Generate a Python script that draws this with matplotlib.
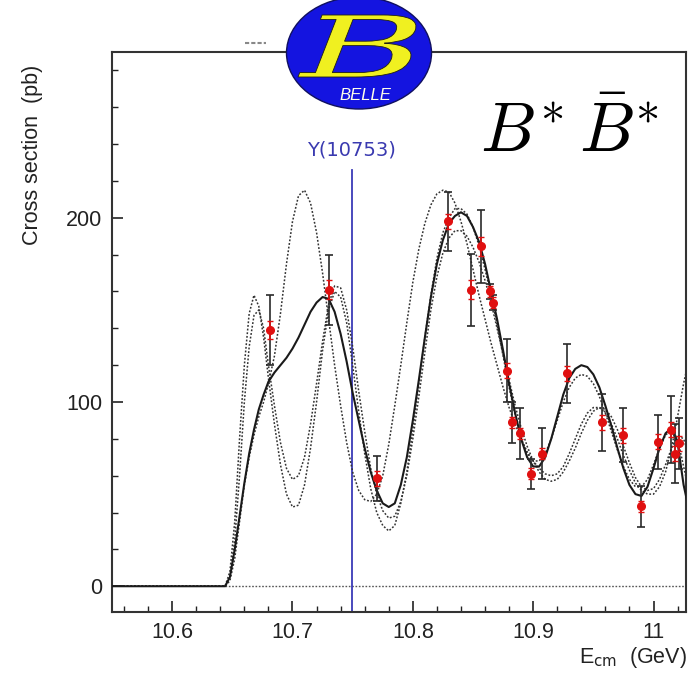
import numpy as np
import matplotlib
matplotlib.use("Agg")
import matplotlib.pyplot as plt
from matplotlib.patches import Ellipse, PathPatch
from matplotlib.lines import Line2D
from matplotlib.textpath import TextPath
from matplotlib.font_manager import FontProperties
from matplotlib.transforms import Affine2D
from matplotlib.ticker import MultipleLocator

plt.rcParams['font.family'] = ['Liberation Sans', 'DejaVu Sans']

# measured points: energy (GeV), cross section (pb), total error, stat error
e_pts = [10.681, 10.7306, 10.770, 10.829, 10.8485, 10.857, 10.864, 10.867,
         10.878, 10.8824, 10.889, 10.898, 10.907, 10.928, 10.957, 10.975,
         10.990, 11.0037, 11.0142, 11.018, 11.021]
xs_pts = [139, 161, 58.5, 198, 161, 184.5, 160, 154,
          117, 89, 83, 61, 72, 115.6, 89, 82,
          43.4, 78.4, 85, 72, 77.5]
err_tot = [19, 19, 12, 16, 19.5, 20, 4, 4,
           17, 11, 14, 8, 14, 16, 15.5, 14.5,
           11, 14.5, 18, 16, 14]
err_stat = [5, 5, 4, 4, 5, 5, 3, 3,
            4, 3, 3, 3, 3, 4, 4, 4,
            3, 4, 4, 4, 4]

# fit curves
e_curve = [10.55, 10.644, 10.648, 10.652, 10.656, 10.66, 10.664, 10.668, 10.672,
           10.676, 10.68, 10.685, 10.69, 10.695, 10.70, 10.705, 10.71, 10.715,
           10.72, 10.725, 10.73, 10.735, 10.74, 10.745, 10.75, 10.755, 10.76,
           10.765, 10.77, 10.775, 10.78, 10.785, 10.79, 10.795, 10.80, 10.805,
           10.81, 10.815, 10.82, 10.825, 10.83, 10.835, 10.84, 10.845, 10.85,
           10.855, 10.86, 10.865, 10.87, 10.875, 10.88, 10.885, 10.89, 10.895,
           10.90, 10.905, 10.91, 10.915, 10.92, 10.925, 10.93, 10.935, 10.94,
           10.945, 10.95, 10.955, 10.96, 10.965, 10.97, 10.975, 10.98, 10.985,
           10.99, 10.995, 11.00, 11.005, 11.01, 11.015, 11.02, 11.025, 11.03]

fit_main = [0, 0, 5, 20, 38, 56, 72, 85, 96,
            104, 111, 116, 120, 124, 129, 135, 142, 149,
            154, 157, 156, 149, 137, 122, 105, 90, 75,
            62, 52, 45, 43, 45, 55, 70, 90, 112,
            135, 157, 175, 188, 197, 201, 203, 201, 195,
            187, 175, 160, 145, 128, 110, 94, 80, 70,
            65, 65, 70, 80, 92, 104, 113, 118, 120,
            119, 115, 108, 98, 87, 75, 64, 55, 50,
            49, 54, 64, 75, 83, 86, 78, 55, 40]

fit_alt1 = [0, 0, 8, 35, 80, 120, 148, 158, 152,
            135, 113, 88, 66, 50, 43, 44, 55, 75,
            100, 128, 150, 160, 157, 143, 120, 95, 72,
            53, 40, 33, 30, 33, 45, 62, 85, 110,
            135, 158, 178, 192, 200, 205, 205, 202, 195,
            185, 172, 158, 142, 125, 108, 93, 80, 72,
            68, 68, 72, 80, 90, 100, 108, 113, 115,
            114, 110, 103, 94, 84, 74, 65, 58, 54,
            54, 58, 66, 75, 82, 85, 80, 65, 50]

fit_alt2 = [0, 0, 5, 25, 60, 100, 130, 147, 150,
            140, 120, 98, 78, 64, 58, 60, 70, 88,
            110, 133, 153, 163, 162, 150, 130, 106, 84,
            64, 50, 41, 37, 38, 46, 60, 80, 103,
            127, 150, 168, 181, 189, 193, 193, 190, 184,
            176, 166, 154, 140, 126, 112, 98, 86, 76,
            68, 62, 58, 57, 58, 62, 68, 75, 83,
            90, 95, 97, 96, 92, 85, 76, 67, 59,
            54, 52, 53, 58, 66, 75, 82, 80, 70]

fit_alt3 = [0, 0, 3, 15, 35, 55, 70, 82, 92,
            100, 110, 125, 148, 175, 198, 212, 215, 208,
            192, 170, 145, 120, 98, 78, 62, 52, 47,
            46, 50, 60, 77, 98, 120, 143, 165, 183,
            197, 207, 213, 215, 214, 208, 198, 186, 172,
            158, 145, 132, 120, 108, 97, 88, 80, 73,
            68, 64, 61, 60, 61, 65, 72, 80, 88,
            94, 97, 97, 94, 88, 80, 71, 63, 56,
            52, 50, 50, 54, 62, 75, 92, 110, 125]

y_state = 10.7493

fig = plt.figure(figsize=(6.9, 6.73), dpi=100)
ax = fig.add_axes([0.1623, 0.0906, 0.8319, 0.8321])

dot = (0, (1.2, 1.2))
for alt in (fit_alt1, fit_alt2, fit_alt3):
    ax.plot(e_curve, alt, color='#333333', lw=1.1, ls=dot, zorder=2)
ax.plot(e_curve, fit_main, color='#1a1a1a', lw=1.5, zorder=3)
ax.plot([10.644, 11.03], [0, 0], color='#555555', lw=1.0, ls=dot, zorder=1)

ax.axvline(y_state, ymax=(226 + 14) / (290 + 14), color='#3a3ab8', lw=1.3, zorder=1)
ax.text(y_state, 237, 'Υ(10753)', color='#3a3ab0', fontsize=14,
        ha='center', va='center', family=['DejaVu Sans'])

ax.errorbar(e_pts, xs_pts, yerr=err_tot, fmt='none', ecolor='#2a2a2a',
            elinewidth=1.2, capsize=3, capthick=1.2, zorder=4)
ax.errorbar(e_pts, xs_pts, yerr=err_stat, fmt='o', color='#e01010', ms=5.5,
            ecolor='#e01010', elinewidth=1.2, capsize=2.5, zorder=5)

ax.set_xlim(10.55, 11.027)
ax.set_ylim(-14, 290)
ax.xaxis.set_minor_locator(MultipleLocator(0.02))
ax.yaxis.set_major_locator(MultipleLocator(100))
ax.yaxis.set_minor_locator(MultipleLocator(20))
ax.set_xticks([10.6, 10.7, 10.8, 10.9, 11.0])
ax.set_xticklabels(['10.6', '10.7', '10.8', '10.9', '11'])
ax.tick_params(which='both', direction='in', top=False, right=False,
               labelsize=15.5, colors='#222222')
ax.tick_params(which='major', length=8, width=1.2, pad=7)
ax.tick_params(which='minor', length=4, width=1.0)
for s in ax.spines.values():
    s.set_linewidth(1.5)
    s.set_color('#333333')

fig.text(33 / 690, 1 - 155 / 673, 'Cross section  (pb)', rotation=90,
         ha='center', va='center', fontsize=15.5, color='#222222')
fig.text(687 / 690, 1 - 657 / 673, r'E$_{\mathrm{cm}}$  (GeV)', ha='right',
         va='center', fontsize=15.5, color='#222222')

ax.text(480 / 690, 1 - 152 / 673, r'$B^{*}\,\bar{B}^{*}$', transform=fig.transFigure,
        fontsize=50, math_fontfamily='cm', ha='left', va='baseline')

# Belle logo
fig.add_artist(Line2D([245 / 690, 266 / 690], [1 - 43 / 673, 1 - 43 / 673],
                      color='#888888', lw=1.5, ls=(0, (2, 1))))
fig.add_artist(Ellipse((359 / 690, 1 - 53 / 673), 145 / 690, 112 / 673,
                       facecolor='#1414e0', edgecolor='#101060', lw=1.0,
                       transform=fig.transFigure, zorder=10))
# stretched "B" glyph, box in pixels: x 297..417, y 13..77 from top
b_path = TextPath((0, 0), 'B', size=1,
                  prop=FontProperties(family='DejaVu Serif', style='italic'))
ext = b_path.get_extents()
sx = 118 / ext.width
sy = 62 / ext.height
b_tr = Affine2D().translate(-ext.x0, -ext.y0).scale(sx, sy).translate(298, 673 - 77)
fig.add_artist(PathPatch(b_path, transform=b_tr, facecolor='#f0f020',
                         edgecolor='#202010', lw=0.6, zorder=11))
fig.text(365 / 690, 1 - 95 / 673, 'BELLE', fontsize=12, color='#ffffe8',
         style='italic', ha='center', va='center', zorder=11)

fig.savefig('out.png', dpi=100)
